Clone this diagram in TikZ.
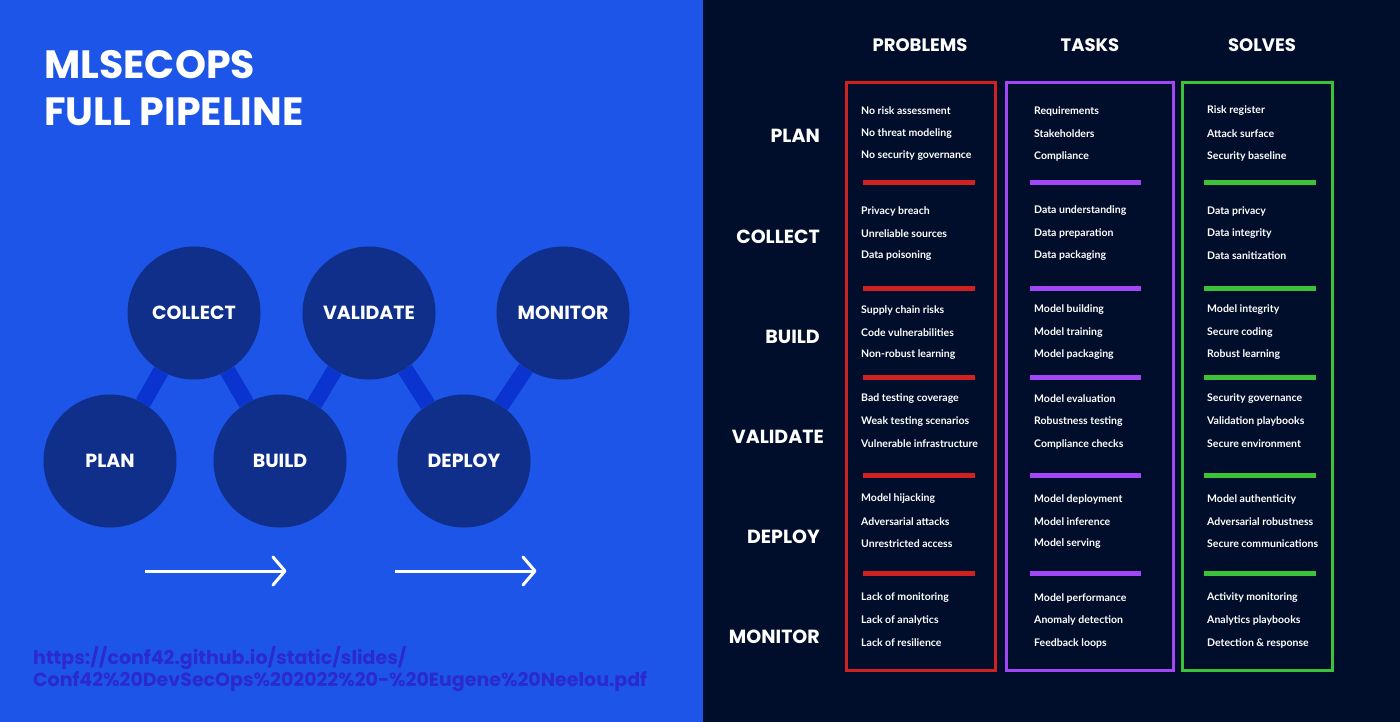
\documentclass[tikz,border=0pt]{standalone}
\usepackage{fontspec}
\usetikzlibrary{calc,backgrounds}
\setmainfont{Poppins}
\newfontfamily\itemfont{Lato}
\definecolor{bgblue}{HTML}{1D55E8}
\definecolor{bgdark}{HTML}{010E2B}
\definecolor{circ}{HTML}{0F2F8A}
\definecolor{link}{HTML}{0A33D0}
\definecolor{url}{HTML}{2A2ACF}
\definecolor{cred}{HTML}{D0201F}
\definecolor{cpur}{HTML}{A346F5}
\definecolor{cgrn}{HTML}{3CC13B}
\begin{document}
\begin{tikzpicture}[x=1pt,y=-1pt,
  stage/.style={circle,fill=circ,minimum size=133pt,inner sep=0pt,text=white,font=\fontsize{19}{19}\bfseries},
  conn/.style={link,line width=16pt},
  rowlab/.style={anchor=east,inner sep=0pt,text=white,font=\fontsize{19}{19}\bfseries},
  head/.style={text=white,font=\fontsize{18}{18}\bfseries},
  item/.style={anchor=west,inner sep=0pt,text=white,font=\itemfont\fontsize{10.5}{10.5}\bfseries},
  colbox/.style={line width=3pt},
  sep/.style={line width=5pt}]
\useasboundingbox (0,0) rectangle (1400,722);
\node[stage] (plan) at (110,461) {PLAN};
\node[stage] (collect) at (194,313) {COLLECT};
\node[stage] (build) at (280,461) {BUILD};
\node[stage] (validate) at (369,313) {VALIDATE};
\node[stage] (deploy) at (464,461) {DEPLOY};
\node[stage] (monitor) at (563,313) {MONITOR};
\begin{scope}[on background layer]
\fill[bgblue] (0,0) rectangle (703,722);
\fill[bgdark] (703,0) rectangle (1400,722);
\draw[conn] (plan) -- (collect);
\draw[conn] (collect) -- (build);
\draw[conn] (build) -- (validate);
\draw[conn] (validate) -- (deploy);
\draw[conn] (deploy) -- (monitor);
\end{scope}
\node[anchor=north west,text=white,font=\fontsize{39.5}{47}\bfseries,align=left,inner sep=0pt] (title) at (44,50) {MLSECOPS\\FULL PIPELINE};
\coordinate (a1s) at (145,571); \coordinate (a1e) at (285,571);
\coordinate (a2s) at (395,571); \coordinate (a2e) at (535,571);
\draw[white,line width=3pt] (a1s) -- (a1e);
\draw[white,line width=3pt,line cap=round,line join=round] ($(a1e)+(-12,-14)$) -- (a1e) -- ($(a1e)+(-12,14)$);
\draw[white,line width=3pt] (a2s) -- (a2e);
\draw[white,line width=3pt,line cap=round,line join=round] ($(a2e)+(-12,-14)$) -- (a2e) -- ($(a2e)+(-12,14)$);
\node[anchor=west,text=url,font=\fontsize{19}{22}\bfseries,align=left,inner sep=0pt] (src) at (33,669) {https://conf42.github.io/static/slides/\\Conf42\%20DevSecOps\%202022\%20-\%20Eugene\%20Neelou.pdf};
% right
\node[head] (hp) at (920,45) {PROBLEMS};
\node[head] (ht) at (1090,45) {TASKS};
\node[head] (hs) at (1262,45) {SOLVES};
\draw[colbox,cred] (846,83) rectangle (995,670);
\draw[colbox,cpur] (1006,83) rectangle (1173,670);
\draw[colbox,cgrn] (1182,83) rectangle (1332,670);
\node[rowlab] (rplan) at (820,136) {PLAN};
\node[rowlab] (rcollect) at (820,237) {COLLECT};
\node[rowlab] (rbuild) at (820,337) {BUILD};
\node[rowlab] (rvalidate) at (824,437) {VALIDATE};
\node[rowlab] (rdeploy) at (820,537) {DEPLOY};
\node[rowlab] (rmonitor) at (820,637) {MONITOR};
\foreach \y in {183,288,377,475,573}{
  \draw[sep,cred] (863,\y) -- (975,\y);
  \draw[sep,cpur] (1030,\y) -- (1141,\y);
  \draw[sep,cgrn] (1204,\y) -- (1316,\y);}
\foreach \y/\a/\b/\c/\d/\e/\f/\g/\h/\i in {
 111/No risk assessment/No threat modeling/No security governance/Requirements/Stakeholders/Compliance/Risk register/Attack surface/Security baseline,
 211/Privacy breach/Unreliable sources/Data poisoning/Data understanding/Data preparation/Data packaging/Data privacy/Data integrity/Data sanitization,
 310/Supply chain risks/Code vulnerabilities/Non-robust learning/Model building/Model training/Model packaging/Model integrity/Secure coding/Robust learning,
 399/Bad testing coverage/Weak testing scenarios/Vulnerable infrastructure/Model evaluation/Robustness testing/Compliance checks/Security governance/Validation playbooks/Secure environment,
 499/Model hijacking/Adversarial attacks/Unrestricted access/Model deployment/Model inference/Model serving/Model authenticity/Adversarial robustness/Secure communications,
 598/Lack of monitoring/Lack of analytics/Lack of resilience/Model performance/Anomaly detection/Feedback loops/Activity monitoring/Analytics playbooks/Detection \& response}{
  \node[item] at (861,\y) {\a}; \node[item] at (861,\y+22.5) {\b}; \node[item] at (861,\y+45) {\c};
  \node[item] at (1034,\y) {\d}; \node[item] at (1034,\y+22.5) {\e}; \node[item] at (1034,\y+45) {\f};
  \node[item] at (1207,\y) {\g}; \node[item] at (1207,\y+22.5) {\h}; \node[item] at (1207,\y+45) {\i};}
\end{tikzpicture}
\end{document}
